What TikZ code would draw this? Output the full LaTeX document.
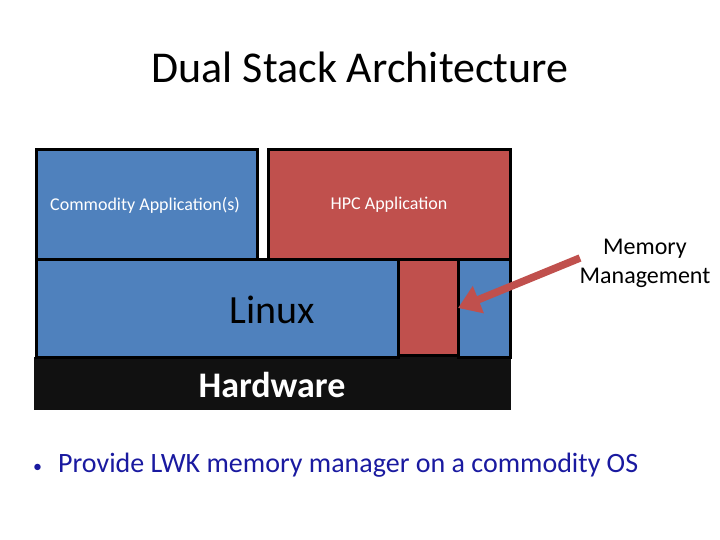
\documentclass[tikz,border=0pt]{standalone}
\usepackage{fontspec}
\setmainfont{Carlito}
\usetikzlibrary{arrows.meta}
\definecolor{ublue}{HTML}{4F81BD}
\definecolor{ured}{HTML}{C0504D}
\definecolor{ublk}{HTML}{111111}
\definecolor{bullblue}{HTML}{1A1AA0}
\begin{document}
\begin{tikzpicture}[x=1pt,y=-1pt,
  blk/.style={draw=black,line width=3pt},
  lab/.style={text=white,inner sep=0pt}]
\useasboundingbox (0,0) rectangle (720,540);
\node[inner sep=0pt,font=\fontsize{44}{48}\selectfont] (title) at (360,67) {Dual Stack Architecture};
% hardware
\fill[ublk] (34,357) rectangle (511,410);
\node[lab,font=\fontsize{36}{40}\selectfont\bfseries] (hw) at (272,385) {Hardware};
% linux
\filldraw[blk,fill=ublue] (36,259) rectangle (398,357);
\filldraw[blk,fill=ublue] (458,259) rectangle (510,357);
\filldraw[blk,fill=ured] (398,259) rectangle (458,355);
\coordinate (mmbox) at (458,308);
\node[inner sep=0pt,font=\fontsize{40}{44}\selectfont] (linux) at (272,310) {Linux};
% apps
\filldraw[blk,fill=ublue] (36,150) rectangle (257,259);
\node[lab,font=\fontsize{18}{21}\selectfont] (comm) at (145,205) {Commodity Application(s)};
\filldraw[blk,fill=ured] (268,150) rectangle (510,259);
\node[lab,font=\fontsize{18}{21}\selectfont] (hpc) at (389,205) {HPC Application};
% memory management
\node[align=center,inner sep=0pt,font=\fontsize{24}{29}\selectfont] (mm) at (645,263) {Memory\\Management};
\coordinate (astart) at (580,258);
\draw[ured,line width=7.5pt,-{Triangle[length=22pt,width=28pt]}] (astart) -- (mmbox);
% bullet
\node[anchor=west,inner sep=0pt,text=bullblue,font=\fontsize{28}{32}\selectfont] (bul) at (33,465) {{\fontsize{18}{20}\selectfont\textbullet}\hspace{16pt}Provide LWK memory manager on a commodity OS};
\end{tikzpicture}
\end{document}
